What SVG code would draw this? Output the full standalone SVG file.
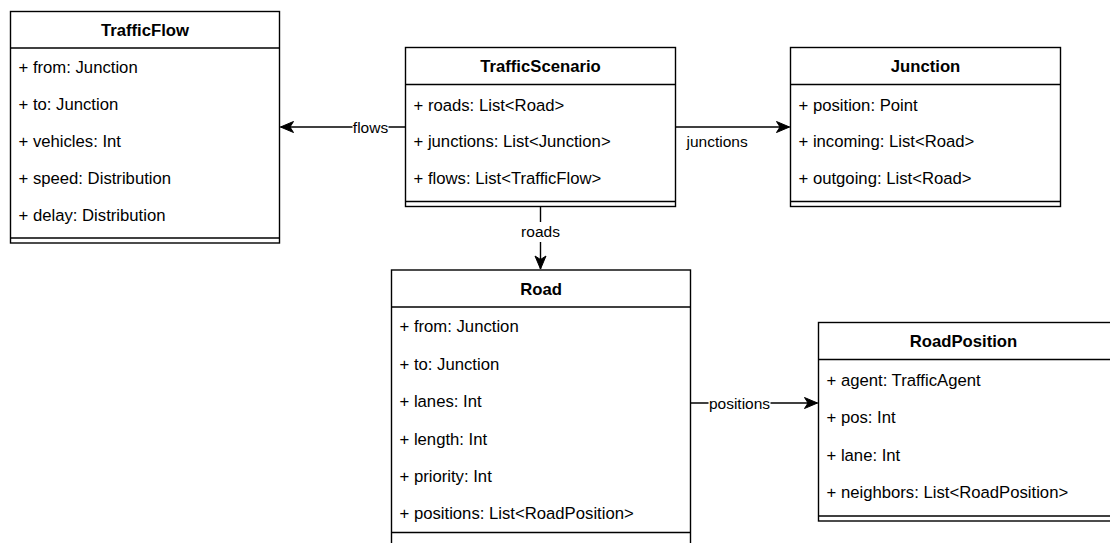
<svg xmlns="http://www.w3.org/2000/svg" width="1110" height="543" viewBox="0 0 1110 543">
  <style>
    .box { fill: #ffffff; stroke: #000000; stroke-width: 1.4; }
    .sep { fill: none; stroke: #000000; stroke-width: 1.4; }
    .title { font-family: "Liberation Sans", Arial, sans-serif; font-size: 16.7px; font-weight: bold; fill: #000000; text-anchor: middle; }
    .attr { font-family: "Liberation Sans", Arial, sans-serif; font-size: 16.7px; fill: #000000; }
    .edge { fill: none; stroke: #000000; stroke-width: 1.4; }
    .lbl { font-family: "Liberation Sans", Arial, sans-serif; font-size: 15.5px; fill: #000000; }
    .lblbg { fill: #ffffff; }
  </style>
  <defs>
    <marker id="arrow" markerUnits="userSpaceOnUse" markerWidth="16" markerHeight="14" viewBox="-14 -7 16 14" refX="0" refY="0" orient="auto">
      <path d="M0,0 L-13,-5.5 L-9.5,0 L-13,5.5 Z" fill="#000000" stroke="#000000" stroke-width="1"/>
    </marker>
  </defs>

  <rect width="1110" height="543" fill="#ffffff"/>

  <!-- connectors -->
  <g id="connectors">
    <line class="edge" x1="405.5" y1="127" x2="280.5" y2="127" marker-end="url(#arrow)"/>
    <rect class="lblbg" x="352.5" y="117" width="36" height="20"/>
    <text class="lbl" x="370.5" y="132.5" text-anchor="middle">flows</text>

    <line class="edge" x1="675.5" y1="127" x2="789.5" y2="127" marker-end="url(#arrow)"/>
    <text class="lbl" x="686.5" y="146.5">junctions</text>

    <line class="edge" x1="540.5" y1="206.5" x2="540.5" y2="269" marker-end="url(#arrow)"/>
    <rect class="lblbg" x="520" y="222" width="41" height="20"/>
    <text class="lbl" x="540.5" y="237" text-anchor="middle">roads</text>

    <line class="edge" x1="690.5" y1="403" x2="817.5" y2="403" marker-end="url(#arrow)"/>
    <rect class="lblbg" x="708.5" y="393" width="62" height="20"/>
    <text class="lbl" x="739.5" y="408.5" text-anchor="middle">positions</text>
  </g>

  <!-- TrafficFlow -->
  <g id="TrafficFlow">
    <rect class="box" x="10.5" y="11.5" width="269" height="231.5"/>
    <line class="sep" x1="10.5" y1="48" x2="279.5" y2="48"/>
    <line class="sep" x1="10.5" y1="238" x2="279.5" y2="238"/>
    <text class="title" x="145" y="35.7">TrafficFlow</text>
    <text class="attr" x="18.5" y="73.3">+ from: Junction</text>
    <text class="attr" x="18.5" y="110.2">+ to: Junction</text>
    <text class="attr" x="18.5" y="147">+ vehicles: Int</text>
    <text class="attr" x="18.5" y="183.9">+ speed: Distribution</text>
    <text class="attr" x="18.5" y="220.7">+ delay: Distribution</text>
  </g>

  <!-- TrafficScenario -->
  <g id="TrafficScenario">
    <rect class="box" x="405.5" y="47.5" width="270" height="159"/>
    <line class="sep" x1="405.5" y1="84.5" x2="675.5" y2="84.5"/>
    <line class="sep" x1="405.5" y1="201.5" x2="675.5" y2="201.5"/>
    <text class="title" x="540.5" y="72">TrafficScenario</text>
    <text class="attr" x="413.5" y="110.5">+ roads: List&lt;Road&gt;</text>
    <text class="attr" x="413.5" y="147">+ junctions: List&lt;Junction&gt;</text>
    <text class="attr" x="413.5" y="183.5">+ flows: List&lt;TrafficFlow&gt;</text>
  </g>

  <!-- Junction -->
  <g id="Junction">
    <rect class="box" x="790.5" y="47.5" width="270" height="159"/>
    <line class="sep" x1="790.5" y1="84.5" x2="1060.5" y2="84.5"/>
    <line class="sep" x1="790.5" y1="201.5" x2="1060.5" y2="201.5"/>
    <text class="title" x="925.5" y="72">Junction</text>
    <text class="attr" x="798.5" y="110.5">+ position: Point</text>
    <text class="attr" x="798.5" y="147">+ incoming: List&lt;Road&gt;</text>
    <text class="attr" x="798.5" y="183.5">+ outgoing: List&lt;Road&gt;</text>
  </g>

  <!-- Road -->
  <g id="Road">
    <rect class="box" x="391.5" y="270" width="299" height="280"/>
    <line class="sep" x1="391.5" y1="307" x2="690.5" y2="307"/>
    <line class="sep" x1="391.5" y1="532.5" x2="690.5" y2="532.5"/>
    <text class="title" x="541" y="294.5">Road</text>
    <text class="attr" x="399.5" y="332.3">+ from: Junction</text>
    <text class="attr" x="399.5" y="369.7">+ to: Junction</text>
    <text class="attr" x="399.5" y="407.1">+ lanes: Int</text>
    <text class="attr" x="399.5" y="444.5">+ length: Int</text>
    <text class="attr" x="399.5" y="481.9">+ priority: Int</text>
    <text class="attr" x="399.5" y="519.3">+ positions: List&lt;RoadPosition&gt;</text>
  </g>

  <!-- RoadPosition -->
  <g id="RoadPosition">
    <rect class="box" x="818.5" y="322.5" width="310" height="198.5"/>
    <line class="sep" x1="818.5" y1="359.5" x2="1128.5" y2="359.5"/>
    <line class="sep" x1="818.5" y1="516" x2="1128.5" y2="516"/>
    <text class="title" x="963.5" y="347">RoadPosition</text>
    <text class="attr" x="826.5" y="385.6">+ agent: TrafficAgent</text>
    <text class="attr" x="826.5" y="423">+ pos: Int</text>
    <text class="attr" x="826.5" y="460.5">+ lane: Int</text>
    <text class="attr" x="826.5" y="498">+ neighbors: List&lt;RoadPosition&gt;</text>
  </g>
</svg>
